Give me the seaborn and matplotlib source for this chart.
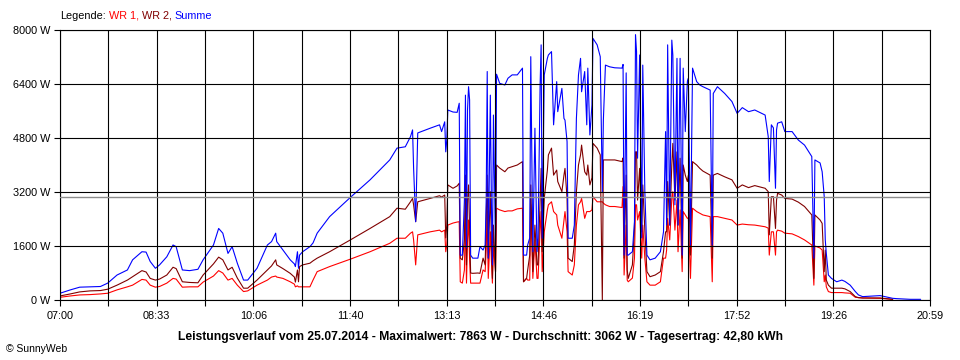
import numpy as np
import pandas as pd
import seaborn as sns
import matplotlib.pyplot as plt

# --- data (W) ---
TIMES = [
    "07:00", "07:10", "07:19", "07:29", "07:39", "07:46", "07:55", "08:05", "08:10", "08:19",
    "08:23", "08:27", "08:32", "08:36", "08:43", "08:49", "08:52", "08:58", "09:05", "09:13",
    "09:18", "09:28", "09:33", "09:37", "09:42", "09:46", "09:51", "09:57", "10:01", "10:10",
    "10:20", "10:24", "10:28", "10:29", "10:35", "10:42", "10:46", "10:47", "10:49", "10:50",
    "10:51", "10:54", "11:01", "11:04", "11:08", "11:20", "11:40", "11:59", "12:18", "12:25",
    "12:33", "12:38", "12:40", "12:41", "12:43", "12:45", "12:57", "13:06", "13:08", "13:11",
    "13:12", "13:13", "13:14", "13:19", "13:23", "13:25", "13:26", "13:28", "13:30", "13:31",
    "13:32", "13:33", "13:34", "13:35", "13:36", "13:38", "13:43", "13:45", "13:48", "13:50",
    "13:51", "13:52", "13:53", "13:55", "13:56", "13:57", "13:58", "14:00", "14:01", "14:04",
    "14:09", "14:12", "14:16", "14:21", "14:26", "14:27", "14:30", "14:31", "14:33", "14:34",
    "14:36", "14:38", "14:40", "14:41", "14:43", "14:44", "14:45", "14:47", "14:50", "14:51",
    "14:54", "14:56", "14:59", "15:00", "15:04", "15:06", "15:07", "15:09", "15:10", "15:14",
    "15:16", "15:18", "15:20", "15:22", "15:23", "15:26", "15:28", "15:29", "15:31", "15:33",
    "15:34", "15:38", "15:41", "15:43", "15:44", "15:46", "15:50", "15:55", "16:02", "16:03",
    "16:04", "16:06", "16:07", "16:08", "16:12", "16:14", "16:15", "16:16", "16:17", "16:19",
    "16:21", "16:22", "16:24", "16:26", "16:29", "16:34", "16:39", "16:42", "16:44", "16:45",
    "16:46", "16:48", "16:50", "16:51", "16:53", "16:55", "16:56", "16:58", "17:00", "17:01",
    "17:03", "17:05", "17:06", "17:08", "17:10", "17:14", "17:17", "17:20", "17:27", "17:29",
    "17:30", "17:34", "17:41", "17:48", "17:53", "17:58", "18:04", "18:10", "18:20", "18:23",
    "18:24", "18:26", "18:28", "18:30", "18:31", "18:32", "18:36", "18:39", "18:46", "18:52",
    "18:58", "19:05", "19:07", "19:08", "19:13", "19:15", "19:17", "19:18", "19:19", "19:21",
    "19:24", "19:29", "19:34", "19:37", "19:42", "19:47", "19:50", "19:54", "20:11", "20:23",
    "20:27", "20:40", "20:50",
]

SUMME = [
    200, 300, 380, 390, 400, 500, 740, 890, 1190, 1430,
    1420, 1140, 940, 1040, 1280, 1630, 1580, 890, 870, 910,
    1190, 1630, 2120, 1980, 1380, 1580, 1090, 590, 590, 940,
    1630, 1730, 1980, 1730, 1480, 1190, 1070, 990, 1430, 940,
    1330, 1430, 1580, 1690, 1980, 2470, 3040, 3560, 4150, 4500,
    4540, 4840, 5040, 3910, 2320, 4950, 5090, 5190, 4990, 5280,
    4390, 4740, 5630, 5570, 5560, 5830, 1330, 1330, 2960, 6070,
    1540, 5630, 6320, 5930, 1330, 1240, 1240, 1580, 1480, 1630,
    2960, 6770, 1240, 6070, 2960, 1040, 5480, 1630, 6690, 6420,
    6370, 6570, 6670, 6670, 6870, 1330, 1330, 1630, 1840, 7210,
    1430, 5090, 1430, 1830, 6370, 7560, 1830, 6670, 7160, 7260,
    7360, 5190, 6470, 5580, 6270, 5380, 5330, 4690, 1830, 1830,
    2220, 5380, 6670, 7160, 6170, 6770, 5190, 6870, 4890, 5780,
    7750, 7560, 7210, 3210, 5330, 6960, 6910, 6880, 6870, 6980,
    1330, 6730, 1330, 1330, 1430, 2320, 7863, 7360, 4200, 7260,
    1840, 6960, 3210, 1330, 1190, 1240, 1430, 2020, 4990, 2220,
    7560, 2220, 7700, 7260, 2820, 7160, 2220, 7160, 1330, 6870,
    4990, 6470, 6570, 1630, 6870, 6470, 6370, 6320, 6220, 1630,
    6120, 6320, 6120, 5880, 5530, 5700, 5580, 5630, 5480, 4840,
    3510, 5190, 5100, 3310, 5040, 5240, 5280, 4990, 4990, 4740,
    4590, 4250, 1240, 4150, 4060, 3800, 3060, 1780, 1380, 740,
    640, 540, 590, 550, 440, 250, 150, 100, 130, 50,
    40, 20, 20,
]

WR2 = [
    120, 180, 240, 270, 280, 320, 440, 590, 690, 870,
    830, 640, 590, 620, 740, 970, 930, 540, 520, 510,
    740, 1070, 1270, 1190, 890, 970, 650, 350, 350, 590,
    890, 1010, 1190, 1040, 930, 790, 680, 530, 890, 540,
    990, 1040, 1090, 1160, 1240, 1430, 1780, 2120, 2470, 2720,
    2690, 2910, 3010, 2820, 2320, 2910, 3010, 3090, 3050, 3110,
    1840, 2220, 3410, 3310, 3380, 3460, 1240, 1190, 1780, 3700,
    1040, 2960, 3410, 2070, 800, 790, 800, 790, 1240, 1040,
    2370, 3700, 1240, 3210, 1780, 640, 2220, 840, 4000, 3910,
    3800, 3910, 3950, 4000, 4100, 540, 650, 890, 1330, 3410,
    840, 2220, 1040, 1040, 2960, 3900, 1430, 3010, 3850, 4300,
    4500, 3700, 3850, 3510, 3210, 3700, 3900, 3010, 1240, 1140,
    1630, 3210, 4000, 4300, 4590, 3800, 3700, 4000, 3410, 3620,
    4640, 4500, 4300, 0, 4150, 4150, 4150, 4150, 4100, 4210,
    1240, 3700, 890, 640, 1040, 2130, 4390, 4390, 2960, 3900,
    2020, 3410, 2070, 840, 690, 740, 840, 1430, 2020, 2020,
    3510, 2220, 4000, 4640, 2960, 4390, 2220, 4200, 1240, 4000,
    3700, 3510, 3700, 1330, 4100, 4000, 3900, 3820, 3700, 1240,
    3700, 3750, 3650, 3560, 3310, 3410, 3330, 3390, 3310, 3210,
    1930, 3060, 3060, 2120, 2960, 3160, 3110, 3010, 2990, 2900,
    2770, 2520, 640, 2520, 2370, 2270, 840, 1480, 590, 440,
    350, 350, 350, 330, 250, 100, 70, 60, 60, 20,
    None, None, None,
]

WR1 = [
    80, 120, 150, 160, 180, 200, 300, 390, 440, 610,
    590, 440, 380, 400, 500, 640, 620, 380, 390, 390,
    530, 710, 870, 800, 590, 640, 440, 250, 270, 440,
    590, 680, 710, 680, 640, 540, 470, 390, 420, 390,
    390, 390, 390, 590, 840, 990, 1210, 1430, 1680, 1830,
    1830, 1980, 2020, 1780, 1040, 1930, 2020, 2070, 2020, 2070,
    1430, 1630, 2220, 2280, 2310, 2320, 540, 500, 890, 2620,
    500, 1780, 2370, 1190, 500, 500, 500, 500, 890, 840,
    1480, 2620, 640, 2020, 1190, 500, 1630, 840, 2720, 2670,
    2620, 2640, 2640, 2700, 2720, 540, 640, 590, 590, 2820,
    640, 1780, 640, 640, 2070, 2620, 840, 2020, 2670, 2820,
    2910, 2620, 2520, 2220, 1830, 2370, 2620, 2020, 840, 740,
    1040, 2220, 2820, 2910, 3010, 2420, 2620, 2620, 2620, 2670,
    3060, 2910, 2910, 2910, 2870, 2820, 2770, 2770, 2740, 3360,
    740, 2220, 590, 540, 650, 1240, 2820, 2820, 2370, 2620,
    1240, 2220, 1240, 540, 440, 440, 540, 1240, 1240, 1480,
    2420, 1780, 3010, 3210, 2070, 2960, 1430, 2670, 840, 2620,
    2520, 2420, 2430, 640, 2720, 2620, 2570, 2520, 2470, 540,
    2470, 2470, 2420, 2370, 2220, 2250, 2230, 2220, 2170, 2130,
    1330, 2020, 2020, 1330, 2020, 2070, 2040, 1980, 1960, 1880,
    1780, 1630, 440, 1600, 1540, 1480, 540, 740, 390, 250,
    220, 220, 220, 210, 200, 80, 70, 60, 50, 20,
    None, None, None,
]

AVERAGE = 3062
X_LABELS = ["07:00", "08:33", "10:06", "11:40", "13:13", "14:46", "16:19", "17:52", "19:26", "20:59"]
Y_TICKS = [0, 1600, 3200, 4800, 6400, 8000]
TITLE = ("Leistungsverlauf vom 25.07.2014 - Maximalwert: 7863 W - "
         "Durchschnitt: 3062 W - Tagesertrag: 42,80 kWh")

RED, MAROON, BLUE = "#ff0000", "#800000", "#0000ff"


def main():
    sns.set_theme(style="white")
    plt.rcParams["font.family"] = ["Liberation Sans", "DejaVu Sans"]

    df = pd.DataFrame({"time": TIMES, "WR 1": WR1, "WR 2": WR2, "Summe": SUMME})
    hm = df["time"].str.split(":", expand=True).astype(int)
    df["minute"] = hm[0] * 60 + hm[1] - 7 * 60
    df[["WR 1", "WR 2", "Summe"]] = df[["WR 1", "WR 2", "Summe"]].astype(float)

    fig = plt.figure(figsize=(9.6, 3.6), dpi=100)
    ax = fig.add_axes([60 / 960, 60 / 360, 870 / 960, 270 / 360])

    for col, color in [("WR 1", RED), ("WR 2", MAROON), ("Summe", BLUE)]:
        sns.lineplot(data=df, x="minute", y=col, color=color, lw=0.8,
                     estimator=None, sort=False, ax=ax, zorder=2)

    ax.axhline(AVERAGE, color="#8c8c8c", lw=1.0, zorder=4)

    ax.set_xlim(0, 839)
    ax.set_ylim(0, 8000)
    xt = np.linspace(0, 839, 19)
    ax.set_xticks(xt)
    ax.set_xticklabels([X_LABELS[i // 2] if i % 2 == 0 else "" for i in range(19)])
    ax.set_yticks(Y_TICKS)
    ax.set_yticklabels([f"{v} W" for v in Y_TICKS])
    ax.set_xlabel("")
    ax.set_ylabel("")

    ax.grid(True, color="black", lw=0.8)
    ax.set_axisbelow(False)
    for s in ax.spines.values():
        s.set_color("black")
        s.set_linewidth(0.8)
    ax.tick_params(axis="both", which="major", direction="out", length=4,
                   width=0.8, color="black", labelsize=7.8, labelcolor="black",
                   bottom=True, left=True)
    ax.tick_params(axis="x", pad=4)
    ax.tick_params(axis="y", pad=3)

    # colored legend line at the top
    fig.canvas.draw()
    renderer = fig.canvas.get_renderer()
    x = 60 / 960
    y = 1 - 16 / 360
    for txt, color, gap in [("Legende:", "black", 3), ("WR 1,", RED, 3),
                            ("WR 2,", MAROON, 3), ("Summe", BLUE, 0)]:
        t = fig.text(x, y, txt, color=color, fontsize=7.8, va="center", ha="left")
        bb = t.get_window_extent(renderer)
        x = (bb.x1 + gap) / fig.bbox.width

    fig.text(0.5, 1 - 337 / 360, TITLE, ha="center", va="center",
             fontsize=8.7, fontweight="bold", color="black")
    fig.text(6 / 960, 1 - 349 / 360, "\u00a9 SunnyWeb", ha="left", va="center",
             fontsize=7.5, color="black")

    fig.savefig("out.png", dpi=100)


if __name__ == "__main__":
    main()
